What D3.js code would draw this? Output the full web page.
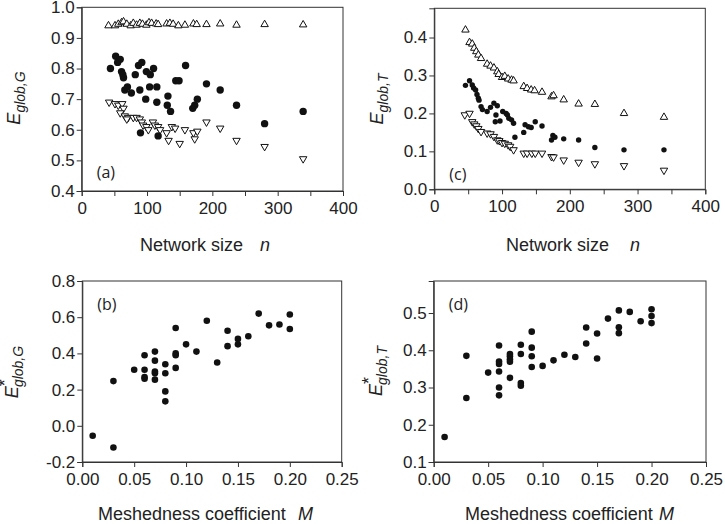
<!DOCTYPE html>
<html>
<head>
<meta charset="utf-8">
<script src="https://cdn.jsdelivr.net/npm/d3@7"></script>
<style>
  body { margin: 0; background: #fff; }
  svg { display: block; }
  .tick text { font-family: "Liberation Sans", Arial, sans-serif; font-size: 17px; fill: #222; }
  .ttl { font-family: "Liberation Sans", Arial, sans-serif; font-size: 18px; fill: #222; }
  .tag { font-family: "Open Sans", "Liberation Sans", sans-serif; font-size: 16px; fill: #222; }
</style>
</head>
<body>
<svg id="chart" width="725" height="524"></svg>
<script>
// panel (a): global efficiency vs network size
var aUp = [[41,0.940],[51,0.940],[56,0.945],[61,0.950],[64,0.953],[69,0.945],[75,0.940],[79,0.948],
  [84,0.942],[89,0.948],[93,0.945],[99,0.942],[103,0.950],[107,0.948],[114,0.946],[117,0.944],
  [130,0.946],[135,0.948],[140,0.945],[148,0.940],[158,0.942],[171,0.946],[176,0.944],[191,0.944],
  [212,0.946],[237,0.942],[280,0.944],[339,0.943]];
var aDot = [[44,0.80],[52,0.84],[55,0.82],[59,0.83],[61,0.79],[63,0.78],[64,0.77],[66,0.73],
  [70,0.74],[76,0.72],[82,0.78],[87,0.81],[92,0.82],[89,0.73],[98,0.70],[90,0.59],[99,0.79],
  [105,0.78],[110,0.80],[104,0.74],[115,0.74],[115,0.69],[117,0.58],[132,0.71],[131,0.68],
  [136,0.66],[144,0.76],[149,0.76],[159,0.81],[170,0.67],[173,0.68],[177,0.70],[191,0.75],
  [212,0.73],[237,0.68],[280,0.62],[339,0.66]];
var aDown = [[42,0.69],[51,0.685],[56,0.68],[62,0.685],[64,0.67],[59,0.655],[66,0.645],[71,0.64],
  [69,0.635],[79,0.64],[84,0.64],[89,0.635],[92,0.625],[94,0.615],[99,0.61],[102,0.60],[109,0.625],
  [112,0.615],[117,0.61],[120,0.60],[130,0.59],[133,0.565],[138,0.61],[143,0.605],[150,0.555],
  [158,0.60],[171,0.59],[173,0.57],[177,0.595],[191,0.625],[212,0.605],[237,0.565],[280,0.545],
  [339,0.505]];

// panel (c): transport efficiency vs network size
var cUp = [[46,0.42],[52,0.387],[56,0.383],[59,0.372],[62,0.363],[65,0.354],[69,0.345],[78,0.33],
  [83,0.325],[88,0.32],[93,0.31],[95,0.303],[100,0.295],[104,0.298],[109,0.291],[114,0.288],
  [117,0.286],[132,0.271],[137,0.266],[143,0.262],[148,0.26],[159,0.256],[173,0.244],[176,0.247],
  [191,0.236],[213,0.225],[237,0.224],[280,0.20],[339,0.19]];
var cDot = [[46,0.274],[52,0.286],[56,0.275],[58,0.267],[61,0.262],[63,0.25],[65,0.24],[66,0.235],
  [69,0.218],[71,0.21],[78,0.205],[83,0.216],[88,0.227],[93,0.22],[91,0.196],[90,0.178],[97,0.18],
  [101,0.205],[106,0.20],[108,0.196],[110,0.187],[114,0.183],[117,0.174],[119,0.137],[132,0.15],
  [134,0.17],[139,0.165],[143,0.163],[149,0.178],[159,0.167],[173,0.13],[175,0.142],[178,0.137],
  [191,0.133],[213,0.13],[237,0.11],[280,0.104],[339,0.104]];
var cDown = [[45,0.196],[52,0.20],[56,0.178],[59,0.172],[62,0.167],[65,0.16],[69,0.152],[78,0.148],
  [83,0.146],[88,0.139],[93,0.13],[96,0.128],[100,0.123],[104,0.121],[109,0.117],[112,0.113],
  [117,0.104],[132,0.095],[137,0.095],[144,0.095],[149,0.095],[159,0.095],[173,0.086],[176,0.085],
  [191,0.077],[213,0.071],[237,0.067],[280,0.062],[339,0.05]];

// panel (b) and (d): normalised efficiencies vs meshedness
var bDot = [[0.01,-0.055],[0.03,-0.12],[0.03,0.247],[0.05,0.31],[0.06,0.39],[0.06,0.31],[0.06,0.27],
  [0.06,0.26],[0.07,0.41],[0.07,0.36],[0.07,0.30],[0.07,0.29],[0.07,0.255],[0.08,0.34],[0.08,0.29],
  [0.08,0.19],[0.08,0.135],[0.09,0.54],[0.09,0.40],[0.09,0.39],[0.09,0.32],[0.10,0.45],[0.11,0.41],
  [0.12,0.58],[0.13,0.35],[0.14,0.525],[0.14,0.44],[0.15,0.48],[0.15,0.45],[0.16,0.495],[0.17,0.62],
  [0.18,0.555],[0.19,0.56],[0.20,0.615],[0.20,0.535]];
var dDot = [[0.01,0.167],[0.03,0.385],[0.03,0.272],[0.05,0.34],[0.06,0.413],[0.06,0.37],[0.06,0.363],
  [0.06,0.343],[0.06,0.30],[0.06,0.279],[0.07,0.39],[0.07,0.384],[0.07,0.376],[0.07,0.369],[0.07,0.326],
  [0.08,0.415],[0.08,0.39],[0.08,0.312],[0.08,0.305],[0.09,0.45],[0.09,0.407],[0.09,0.384],[0.09,0.355],
  [0.10,0.358],[0.11,0.373],[0.12,0.388],[0.13,0.382],[0.14,0.461],[0.14,0.418],[0.15,0.445],
  [0.15,0.378],[0.16,0.485],[0.17,0.507],[0.17,0.462],[0.17,0.446],[0.18,0.503],[0.19,0.478],
  [0.20,0.51],[0.20,0.492],[0.20,0.473]];

var nTicks = [0, 50, 100, 150, 200, 250, 300, 350, 400];
var mTicks = [0, 0.05, 0.10, 0.15, 0.20, 0.25];

var svg = d3.select("#chart");

function panel(cfg) {
  var x = d3.scaleLinear().domain(cfg.xd).range([cfg.l, cfg.r]);
  var y = d3.scaleLinear().domain(cfg.yd).range([cfg.b, cfg.t]);
  var g = svg.append("g");

  // frame
  g.append("rect")
    .attr("x", cfg.l).attr("y", cfg.t)
    .attr("width", cfg.r - cfg.l).attr("height", cfg.b - cfg.t)
    .attr("fill", "none").attr("stroke", "#333").attr("stroke-width", 1);

  var xa = g.append("g").attr("transform", "translate(0," + cfg.b + ")")
    .call(d3.axisBottom(x).tickValues(cfg.xt).tickSize(5).tickPadding(6)
      .tickFormat(function(d) { return cfg.xlab(d); }));
  var ya = g.append("g").attr("transform", "translate(" + cfg.l + ",0)")
    .call(d3.axisLeft(y).tickValues(cfg.yt).tickSize(5).tickPadding(2)
      .tickFormat(function(d) { return d.toFixed(1); }));
  [xa, ya].forEach(function(a) {
    a.select(".domain").attr("stroke", "#333");
    a.selectAll(".tick line").attr("stroke", "#333");
    a.attr("font-family", null).attr("font-size", null);
  });

  // markers
  var tri = d3.symbol().type(d3.symbolTriangle).size(cfg.tri || 22);
  (cfg.up || []).forEach(function(d) {
    g.append("path").attr("d", tri)
      .attr("transform", "translate(" + x(d[0]) + "," + y(d[1]) + ")")
      .attr("fill", "#fff").attr("stroke", "#111").attr("stroke-width", 1);
  });
  (cfg.down || []).forEach(function(d) {
    g.append("path").attr("d", tri)
      .attr("transform", "translate(" + x(d[0]) + "," + y(d[1]) + ") rotate(180)")
      .attr("fill", "#fff").attr("stroke", "#111").attr("stroke-width", 1);
  });
  g.selectAll("circle.dot").data(cfg.dots).enter().append("circle")
    .attr("class", "dot")
    .attr("cx", function(d) { return x(d[0]); })
    .attr("cy", function(d) { return y(d[1]); })
    .attr("r", cfg.rad)
    .attr("fill", "#111");

  // panel tag
  g.append("text").attr("class", "tag")
    .attr("x", cfg.l + cfg.tag[0]).attr("y", cfg.t + cfg.tag[1])
    .text(cfg.label);

  // x title
  var xt = g.append("text").attr("class", "ttl")
    .attr("x", cfg.xtPos[0]).attr("y", cfg.xtPos[1]);
  xt.append("tspan").text(cfg.xtitle);
  xt.append("tspan").attr("x", cfg.xtPos[2]).attr("font-style", "italic").text(cfg.xvar);

  // y title
  var yt = g.append("text").attr("class", "ttl")
    .attr("text-anchor", "middle")
    .attr("transform", "translate(" + cfg.ytPos[0] + "," + cfg.ytPos[1] + ") rotate(-90)")
    .attr("font-style", "italic");
  yt.append("tspan").attr("font-size", "18px").text("E");
  if (cfg.star) {
    yt.append("tspan").attr("font-size", "18px").attr("font-style", "normal").attr("dy", -7).text("*");
    yt.append("tspan").attr("font-size", "14px").attr("dx", -8).attr("dy", 12).text(cfg.sub);
  } else {
    yt.append("tspan").attr("font-size", "14px").attr("dy", 5).text(cfg.sub);
  }
}

panel({
  l: 81.7, r: 343, t: 7.3, b: 191,
  xd: [0, 400], yd: [0.4, 1.0], xt: nTicks, yt: [0.4, 0.5, 0.6, 0.7, 0.8, 0.9, 1.0],
  xlab: function(d) { return d % 100 === 0 ? d : ""; },
  up: aUp, down: aDown, dots: aDot, rad: 3.7, tri: 24,
  label: "(a)", tag: [15, 171],
  xtitle: "Network size", xvar: "n", xtPos: [140, 251, 260],
  ytPos: [20, 98], sub: "glob,G", star: false
});

panel({
  l: 434.3, r: 705.3, t: 8.3, b: 189.3,
  xd: [0, 400], yd: [0, 0.477], xt: nTicks, yt: [0, 0.1, 0.2, 0.3, 0.4],
  xlab: function(d) { return d % 100 === 0 ? d : ""; },
  up: cUp, down: cDown, dots: cDot, rad: 2.7, tri: 24,
  label: "(c)", tag: [15, 172],
  xtitle: "Network size", xvar: "n", xtPos: [506, 251, 630],
  ytPos: [383, 99], sub: "glob,T", star: false
});

panel({
  l: 82.3, r: 341.7, t: 281, b: 462,
  xd: [0, 0.25], yd: [-0.2, 0.8], xt: mTicks, yt: [-0.2, 0, 0.2, 0.4, 0.6, 0.8],
  xlab: function(d) { return d.toFixed(2); },
  dots: bDot, rad: 3.3,
  label: "(b)", tag: [15, 29],
  xtitle: "Meshedness coefficient", xvar: "M", xtPos: [98, 520, 298],
  ytPos: [18, 372], sub: "glob,G", star: true
});

panel({
  l: 433.7, r: 706, t: 281, b: 462,
  xd: [0, 0.25], yd: [0.1, 0.586], xt: mTicks, yt: [0.1, 0.2, 0.3, 0.4, 0.5],
  xlab: function(d) { return d.toFixed(2); },
  dots: dDot, rad: 3.3,
  label: "(d)", tag: [15, 29],
  xtitle: "Meshedness coefficient", xvar: "M", xtPos: [465, 520, 659],
  ytPos: [382, 371], sub: "glob,T", star: true
});
</script>
</body>
</html>
